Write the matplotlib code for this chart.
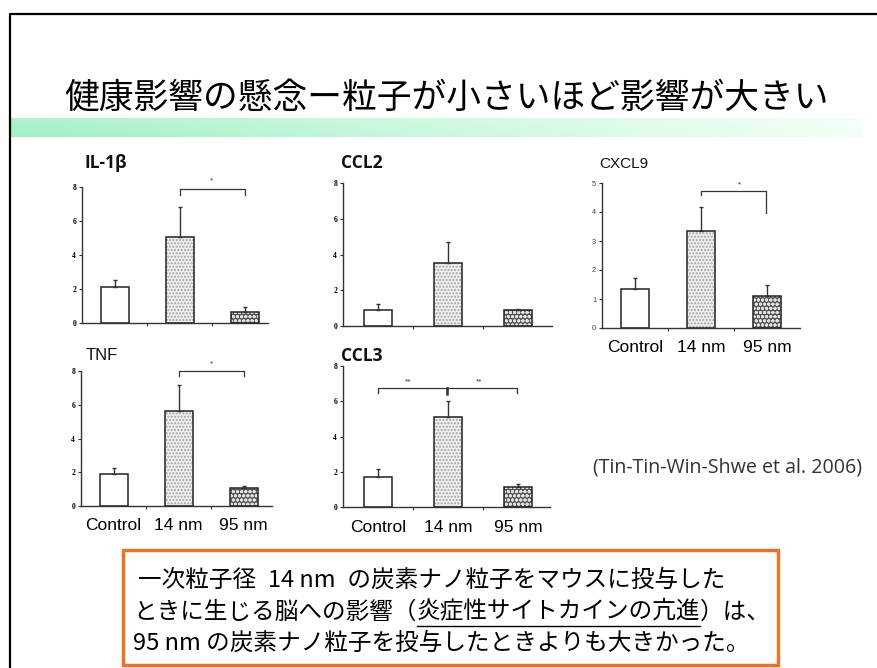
import numpy as np
import matplotlib
matplotlib.use('Agg')
from matplotlib import pyplot as plt
from matplotlib.lines import Line2D
from matplotlib.patches import Rectangle

W, H = 877, 668

groups = ['Control', '14 nm', '95 nm']

il1b_mean = [2.1, 5.08, 0.65]
il1b_err = [0.4, 1.75, 0.3]
ccl2_mean = [0.9, 3.5, 0.9]
ccl2_err = [0.32, 1.2, 0.03]
cxcl9_mean = [1.33, 3.36, 1.1]
cxcl9_err = [0.41, 0.82, 0.38]
tnf_mean = [1.89, 5.64, 1.08]
tnf_err = [0.36, 1.56, 0.12]
ccl3_mean = [1.72, 5.13, 1.15]
ccl3_err = [0.42, 0.91, 0.15]

title = '健康影響の懸念ー粒子が小さいほど影響が大きい'
citation = '(Tin-Tin-Win-Shwe et al. 2006)'
note_line1 = '一次粒子径\u200214 nm\u2002の炭素ナノ粒子をマウスに投与した'
note_line2 = ['ときに生じる脳への影響（', '炎症性サイトカインの亢進', '）は、']
note_line3 = '95 nm の炭素ナノ粒子を投与したときよりも大きかった。'

JP = ['Noto Sans CJK JP', 'DejaVu Sans']


def fx(x):
    return x / W


def fy(y):
    return 1 - y / H


def px_axes(fig, left, top, right, bottom):
    return fig.add_axes([fx(left), fy(bottom), (right - left) / W, (bottom - top) / H])


def draw_panel(fig, box, spacing, ymax, means, errs, serif_ticks=True, show_groups=False):
    left, top, right, bottom = box
    ax = px_axes(fig, left, top, right, bottom)
    c0 = left + 0.5 * spacing
    x = np.arange(3)
    width = 28 / spacing
    # fills with dot textures
    ax.bar(x[0], means[0], width, color='white', lw=0, zorder=1)
    ax.bar(x[1], means[1], width, color='#f0f0f0', edgecolor='#a0a0a0',
           hatch='.....', lw=0, zorder=1)
    ax.bar(x[2], means[2], width, color='#505050', edgecolor='#e0e0e0',
           hatch='oooo', lw=0, zorder=1)
    # outlines and upper error bars
    ax.bar(x, means, width, fill=False, edgecolor='#222222', lw=1.1, zorder=2)
    ax.errorbar(x, means, yerr=[np.zeros(3), errs], fmt='none', ecolor='#333333',
                elinewidth=1.0, capsize=1.6, capthick=1.0, zorder=3)
    ax.set_ylim(0, ymax)
    ax.set_xlim(-0.5, (right - c0) / spacing)
    for s in ['top', 'right']:
        ax.spines[s].set_visible(False)
    for s in ['left', 'bottom']:
        ax.spines[s].set_color('#333333')
        ax.spines[s].set_linewidth(1.0)
    ax.set_yticks(np.arange(0, ymax + 1, 2 if ymax == 8 else 1))
    ax.set_xticks([0.5, 1.5])
    ax.set_xticklabels([])
    ax.tick_params(axis='both', which='major', length=2.2, width=0.8,
                   color='#333333', pad=2)
    if serif_ticks:
        for t in ax.get_yticklabels():
            t.set_fontfamily('Liberation Serif')
            t.set_fontweight('bold')
            t.set_fontsize(5.5)
    else:
        for t in ax.get_yticklabels():
            t.set_fontfamily('Liberation Sans')
            t.set_fontsize(5.3)
            t.set_color('#444444')
    if show_groups:
        ax.set_xticks(x, minor=True)
        ax.set_xticklabels(groups, minor=True)
        ax.tick_params(axis='x', which='minor', length=0, pad=9)
        for t in ax.get_xticklabels(minor=True):
            t.set_fontfamily('Liberation Sans')
            t.set_fontsize(12.5)
            t.set_color('black')
    return ax


def bracket(ax, x1, x2, y, y1, y2, label, lx, ly):
    ax.plot([x1, x1, x2, x2], [y1, y, y, y2], color='#333333', lw=0.9,
            clip_on=False, zorder=4)
    ax.text(lx, ly, label, ha='center', va='center', fontsize=6,
            family='Liberation Sans', color='#333333')


fig = plt.figure(figsize=(W / 100, H / 100), dpi=100)

# slide frame
fig.add_artist(Line2D([fx(10), fx(10), 1], [0, fy(14), fy(14)],
                      color='black', lw=1.6))

# green band under the heading
band = fig.add_axes([fx(10), fy(137), (862 - 10) / W, (137 - 118) / H])
band.axis('off')
t = np.linspace(0, 1, 300)
v = np.linspace(0, 1, 20)[:, None]
left_col = np.array([160, 240, 196]) / 255
right_col = np.array([242, 255, 246]) / 255
grad = left_col[None, None, :] * (1 - t[None, :, None]) + right_col[None, None, :] * t[None, :, None]
grad = grad * (0.85 + 0.15 * v[..., None]) + (1 - (0.85 + 0.15 * v[..., None]))
band.imshow(np.clip(grad, 0, 1), aspect='auto', extent=(0, 1, 0, 1))

fig.text(fx(447), fy(98), title, ha='center', va='center', fontsize=25,
         family=JP, color='black')

# cytokine panels
ax_il1b = draw_panel(fig, (82, 187, 268, 323), 65, 8, il1b_mean, il1b_err)
bracket(ax_il1b, 1.0, 2.0, 7.88, 7.53, 7.53, '*', 1.5, 8.35)

ax_ccl2 = draw_panel(fig, (343, 183, 552, 326), 70, 8, ccl2_mean, ccl2_err)

ax_cxcl9 = draw_panel(fig, (602, 183, 800, 328), 66, 5, cxcl9_mean, cxcl9_err,
                      serif_ticks=False, show_groups=True)
bracket(ax_cxcl9, 1.0, 1.98, 4.72, 4.59, 3.97, '*', 1.58, 4.95)

ax_tnf = draw_panel(fig, (81, 371, 272, 506), 65, 8, tnf_mean, tnf_err,
                    show_groups=True)
bracket(ax_tnf, 1.0, 2.0, 8.0, 7.7, 7.7, '*', 1.5, 8.45)

ax_ccl3 = draw_panel(fig, (343, 366, 550, 507), 70, 8, ccl3_mean, ccl3_err,
                     show_groups=True)
bracket(ax_ccl3, 0.0, 0.99, 6.76, 6.48, 6.48, '**', 0.43, 7.1)
bracket(ax_ccl3, 0.99, 1.99, 6.76, 6.48, 6.48, '**', 1.44, 7.1)
ax_ccl3.plot([0.99, 0.99], [6.76, 6.4], color='#333333', lw=1.8, clip_on=False, zorder=4)

# panel headings
bold_kw = dict(family=['Open Sans', 'DejaVu Sans'], fontweight='bold', fontsize=12.5,
               color='#111111', va='center', ha='left')
fig.text(fx(84), fy(163), 'IL-1β', **bold_kw)
fig.text(fx(341), fy(163), 'CCL2', **bold_kw)
fig.text(fx(341), fy(356), 'CCL3', **bold_kw)
fig.text(fx(599), fy(164), 'CXCL9', family='Liberation Sans', fontsize=11,
         color='#111111', va='center', ha='left')
fig.text(fx(86), fy(356), 'TNF', family='Liberation Sans', fontsize=12,
         color='#111111', va='center', ha='left')

fig.text(fx(593), fy(468), citation, family='Open Sans', fontsize=14.1,
         color='#333333', va='center', ha='left')

# summary box
fig.add_artist(Rectangle((fx(123), fy(665)), (778 - 123) / W, (665 - 550) / H,
                         transform=fig.transFigure, fill=False,
                         edgecolor='#f56f1c', lw=2.4))
note_kw = dict(family=JP, fontsize=17, color='black', va='center', ha='left')
fig.text(fx(138), fy(580), note_line1, **note_kw)
fig.text(fx(133), fy(643), note_line3, **note_kw)

# second line: pieces placed side by side, middle part underlined
renderer = fig.canvas.get_renderer()
x_px = 133
for i, piece in enumerate(note_line2):
    txt = fig.text(fx(x_px), fy(612), piece, **note_kw)
    bb = txt.get_window_extent(renderer)
    if i == 1:
        fig.add_artist(Line2D([fx(bb.x0), fx(bb.x1)], [fy(626), fy(626)],
                              color='black', lw=1.0))
    x_px += bb.width

fig.savefig('out.png', dpi=100)
